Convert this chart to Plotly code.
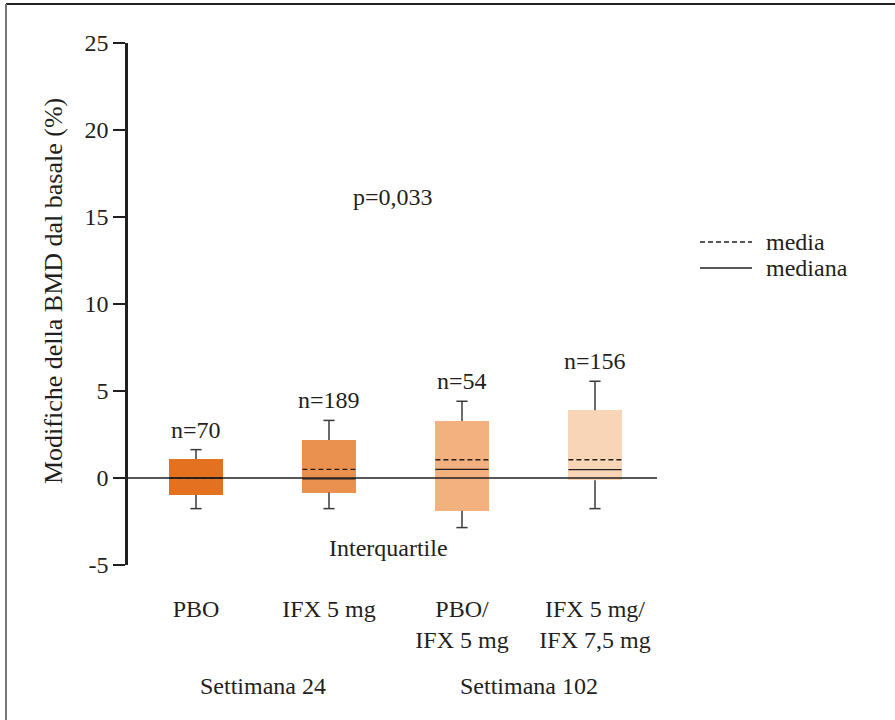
import plotly.graph_objects as go

# ---- data ----
categories = ["PBO", "IFX 5 mg", "PBO/<br>IFX 5 mg", "IFX 5 mg/<br>IFX 7,5 mg"]
n_labels = ["n=70", "n=189", "n=54", "n=156"]
q1 = [-0.98, -0.84, -1.88, -0.13]
q3 = [1.09, 2.18, 3.28, 3.90]
median = [0.0, -0.05, 0.50, 0.48]
mean = [0.0, 0.50, 1.05, 1.05]
lower = [-1.76, -1.76, -2.85, -1.76]
upper = [1.63, 3.31, 4.41, 5.56]
box_colors = ["#E4711F", "#EB9150", "#F3B17F", "#F8D5B7"]
groups = ["Settimana 24", "Settimana 102"]
legend_labels = ["media", "mediana"]
y_ticks = [-5, 0, 5, 10, 15, 20, 25]
y_tick_labels = ["-5", "0", "5", "10", "15", "20", "25"]
y_title = "Modifiche della BMD dal basale (%)"

# ---- layout geometry ----
W, H = 895, 720
L, R, T, B = 128, 238, 43, 155
PW, PH = W - L - R, H - T - B
FONT = "Times New Roman, Liberation Serif, serif"
INK = "#231f20"
FS = 24

def px(p):
    return (p - L) / PW

def py(p):
    return (H - B - p) / PH

xpos = list(range(len(categories)))
BW = 0.20   # half box width (x units)
CW = 0.042  # half cap width
MEAN_DASH = "5px,3px"

fig = go.Figure()

# boxes as floating bars
fig.add_trace(go.Bar(
    x=xpos, y=[b - a for a, b in zip(q1, q3)], base=q1,
    width=2 * BW, marker=dict(color=box_colors, line=dict(width=0)),
    showlegend=False, hoverinfo="skip"))

# whiskers with caps
wx, wy = [], []
for i in xpos:
    wx += [i, i, None, i - CW, i + CW, None, i, i, None, i - CW, i + CW, None]
    wy += [q3[i], upper[i], None, upper[i], upper[i], None,
           q1[i], lower[i], None, lower[i], lower[i], None]
fig.add_trace(go.Scatter(x=wx, y=wy, mode="lines",
                         line=dict(color="#3a3a3a", width=1.5),
                         showlegend=False, hoverinfo="skip"))

# mean (dashed) and median (solid)
mx, my, dx, dy = [], [], [], []
for i in xpos:
    mx += [i - BW, i + BW, None]
    my += [mean[i], mean[i], None]
    dx += [i - BW, i + BW, None]
    dy += [median[i], median[i], None]
fig.add_trace(go.Scatter(x=mx, y=my, mode="lines", name=legend_labels[0],
                         line=dict(color=INK, width=1.3, dash=MEAN_DASH),
                         showlegend=False, hoverinfo="skip"))
fig.add_trace(go.Scatter(x=dx, y=dy, mode="lines", name=legend_labels[1],
                         line=dict(color=INK, width=1.3),
                         showlegend=False, hoverinfo="skip"))

# n labels
for i in xpos:
    fig.add_annotation(x=i, y=upper[i], text=n_labels[i], showarrow=False,
                       yanchor="middle", yshift=20,
                       font=dict(family=FONT, size=FS, color=INK))

# group labels
for g, xc in zip(groups, [0.5, 2.5]):
    fig.add_annotation(x=xc, xref="x", y=py(686), yref="paper", text=g,
                       showarrow=False, yanchor="middle",
                       font=dict(family=FONT, size=FS, color=INK))

fig.add_annotation(x=px(393), xref="paper", y=py(197), yref="paper",
                   text="p=0,033", showarrow=False, yanchor="middle",
                   font=dict(family=FONT, size=FS, color=INK))
fig.add_annotation(x=px(388), xref="paper", y=py(548), yref="paper",
                   text="Interquartile", showarrow=False, yanchor="middle",
                   font=dict(family=FONT, size=FS, color=INK))

# y axis title
fig.add_annotation(x=px(53), xref="paper", y=py(291), yref="paper",
                   text=y_title, textangle=-90, showarrow=False,
                   xanchor="center", yanchor="middle",
                   font=dict(family=FONT, size=26, color=INK))

# manual legend
for lab, yy, dsh in zip(legend_labels, [242, 268], [MEAN_DASH, "solid"]):
    fig.add_shape(type="line", xref="paper", yref="paper",
                  x0=px(700), x1=px(752), y0=py(yy), y1=py(yy),
                  line=dict(color=INK, width=1.3, dash=dsh))
    fig.add_annotation(x=px(764), xref="paper", y=py(yy), yref="paper",
                       text=lab, showarrow=False, xanchor="left",
                       yanchor="middle",
                       font=dict(family=FONT, size=FS, color=INK))

# zero line over boxes
fig.add_shape(type="line", xref="paper", yref="y", x0=0, x1=1, y0=0, y1=0,
              line=dict(color=INK, width=1.3), layer="above")

# outer frame (top and left)
fig.add_shape(type="line", xref="paper", yref="paper",
              x0=px(6), x1=px(895), y0=py(4), y1=py(4),
              line=dict(color="#222", width=2))
fig.add_shape(type="line", xref="paper", yref="paper",
              x0=px(6), x1=px(6), y0=py(4), y1=py(720),
              line=dict(color="#777", width=2))

fig.update_layout(
    width=W, height=H,
    margin=dict(l=L, r=R, t=T, b=B, pad=0),
    paper_bgcolor="white", plot_bgcolor="white",
    font=dict(family=FONT, size=FS, color=INK),
    bargap=0, showlegend=False,
    xaxis=dict(range=[-(196 - L) / 133, (657 - 196) / 133],
               tickmode="array", tickvals=xpos, ticktext=categories,
               showline=False, showgrid=False, zeroline=False,
               ticks="", ticklabelstandoff=27,
               tickfont=dict(family=FONT, size=FS, color=INK)),
    yaxis=dict(range=[-5, 25], tickmode="array", tickvals=y_ticks,
               ticktext=y_tick_labels,
               showline=True, linecolor=INK, linewidth=2.5,
               ticks="outside", ticklen=12, tickwidth=1.5, tickcolor=INK,
               showgrid=False, zeroline=False,
               tickfont=dict(family=FONT, size=FS, color=INK)),
)

fig.write_html("out.html",
               config={"displayModeBar": False},
               post_script="document.body.style.margin='0';"
                           "document.body.style.padding='0';")
